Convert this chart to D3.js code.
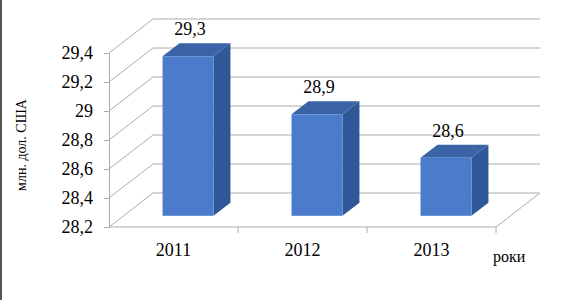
<!DOCTYPE html>
<html>
<head>
<meta charset="utf-8">
<script src="https://cdn.jsdelivr.net/npm/d3@7"></script>
<style>
  body { margin: 0; background: #fff; }
  svg text { font-family: "Liberation Serif", "Times New Roman", serif !important; fill: #000; }
</style>
</head>
<body>
<div id="chart"></div>
<script>
// data
const years = ["2011", "2012", "2013"];
const values = [29.3, 28.9, 28.6];
const valueLabels = ["29,3", "28,9", "28,6"];
const yTicks = [28.2, 28.4, 28.6, 28.8, 29.0, 29.2, 29.4];
const yTitle = "млн. дол. США";
const xTitle = "роки";

const width = 577, height = 300;

// 3d-ish offsets for the back wall and for the bars
const wallDx = 44, wallDy = -34;
const barFront = 0.33, barDepth = 0.385;

const svg = d3.select("#chart").append("svg")
    .attr("width", width)
    .attr("height", height)
    .attr("font-family", "Liberation Serif, serif");

// frame line on the left edge
svg.append("line")
    .attr("x1", 1).attr("x2", 1)
    .attr("y1", 0).attr("y2", height)
    .attr("stroke", "#555")
    .attr("stroke-width", 2);

const x = d3.scaleBand()
    .domain(years)
    .range([109, 496]);

const y = d3.scaleLinear()
    .domain([28.2, 29.4])
    .range([227, 53]);

const ua = d3.formatLocale({decimal: ",", thousands: " ", grouping: [3], currency: ["", ""]});
const fmt = ua.format("~g");

const grid = svg.append("g").attr("class", "grid");

// back wall gridlines + diagonal connectors
yTicks.forEach(function(t) {
    grid.append("line")
        .attr("x1", x.range()[0] + wallDx).attr("x2", x.range()[1] + wallDx)
        .attr("y1", y(t) + wallDy).attr("y2", y(t) + wallDy)
        .attr("stroke", "#acacac");
    grid.append("line")
        .attr("x1", x.range()[0]).attr("x2", x.range()[0] + wallDx)
        .attr("y1", y(t)).attr("y2", y(t) + wallDy)
        .attr("stroke", "#acacac");
});

// floor front edge and right edge
grid.append("line")
    .attr("x1", x.range()[0]).attr("x2", x.range()[1])
    .attr("y1", y(28.2)).attr("y2", y(28.2))
    .attr("stroke", "#acacac");
grid.append("line")
    .attr("x1", x.range()[1]).attr("x2", x.range()[1] + wallDx)
    .attr("y1", y(28.2)).attr("y2", y(28.2) + wallDy)
    .attr("stroke", "#acacac");

// category ticks under the floor
grid.selectAll(".xtick")
    .data(years)
    .enter()
    .append("line")
    .attr("class", "xtick")
    .attr("x1", function(d) { return x(d) + x.bandwidth(); })
    .attr("x2", function(d) { return x(d) + x.bandwidth(); })
    .attr("y1", y(28.2))
    .attr("y2", y(28.2) + 6)
    .attr("stroke", "#acacac");

// y axis
const yAxis = d3.axisLeft(y)
    .tickValues(yTicks)
    .tickFormat(fmt)
    .tickSize(5)
    .tickPadding(11);

const yG = svg.append("g")
    .attr("transform", "translate(" + x.range()[0] + ",0)")
    .call(yAxis)
    .attr("font-family", "Liberation Serif, serif")
    .attr("font-size", 18);
yG.select(".domain").attr("stroke", "#acacac");
yG.selectAll(".tick line").attr("stroke", "#acacac");
yG.selectAll(".tick text")
    .style("font-family", "'Liberation Serif', serif")
    .style("font-size", "18px")
    .attr("fill", "#000");

// bars
const bw = x.bandwidth() * 0.395;
const fdx = wallDx * barFront, fdy = wallDy * barFront;
const bdx = wallDx * barDepth, bdy = wallDy * barDepth;
const base = y(28.2) + fdy;

const bars = svg.selectAll(".bar")
    .data(years.map(function(d, i) { return {year: d, value: values[i], label: valueLabels[i]}; }))
    .enter()
    .append("g")
    .attr("class", "bar");

function bx(d) { return x(d.year) + x.bandwidth() / 2 + fdx - bw / 2; }
function by(d) { return y(d.value) + fdy; }

// side face
bars.append("path")
    .attr("d", function(d) {
        const x0 = bx(d) + bw, y0 = by(d);
        return "M" + x0 + "," + y0 +
            "L" + (x0 + bdx) + "," + (y0 + bdy) +
            "L" + (x0 + bdx) + "," + (base + bdy) +
            "L" + x0 + "," + base + "Z";
    })
    .attr("fill", "#2f5898");

// top face
bars.append("path")
    .attr("d", function(d) {
        const x0 = bx(d), y0 = by(d);
        return "M" + x0 + "," + y0 +
            "L" + (x0 + bdx) + "," + (y0 + bdy) +
            "L" + (x0 + bw + bdx) + "," + (y0 + bdy) +
            "L" + (x0 + bw) + "," + y0 + "Z";
    })
    .attr("fill", "#3a64a6");

// front face
bars.append("rect")
    .attr("x", bx)
    .attr("y", by)
    .attr("width", bw)
    .attr("height", function(d) { return base - by(d); })
    .attr("fill", "#4a7ccb");

// value labels
bars.append("text")
    .attr("x", function(d) { return bx(d) + bw / 2 + 2; })
    .attr("y", function(d) { return by(d) + bdy - 8; })
    .attr("text-anchor", "middle")
    .attr("font-size", 18)
    .text(function(d) { return d.label; });

// category labels
svg.selectAll(".xlabel")
    .data(years)
    .enter()
    .append("text")
    .attr("class", "xlabel")
    .attr("x", function(d) { return x(d) + x.bandwidth() / 2; })
    .attr("y", 256)
    .attr("text-anchor", "middle")
    .attr("font-size", 18)
    .text(function(d) { return d; });

// axis titles
svg.append("text")
    .attr("x", 493)
    .attr("y", 262)
    .attr("font-size", 16)
    .text(xTitle);

svg.append("text")
    .attr("transform", "translate(26,145) rotate(-90)")
    .attr("text-anchor", "middle")
    .attr("font-size", 14)
    .text(yTitle);
</script>
</body>
</html>
